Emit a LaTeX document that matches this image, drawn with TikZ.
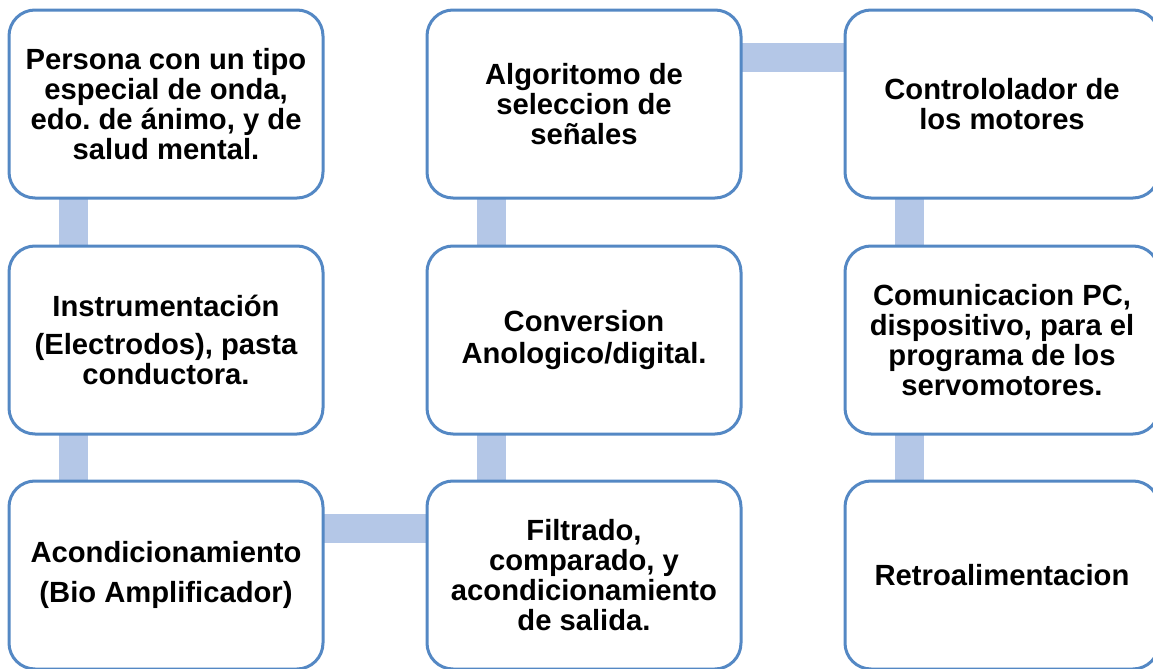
\documentclass[tikz,border=0pt]{standalone}
\usepackage{fontspec}
\setmainfont{Liberation Sans}
\usetikzlibrary{backgrounds}
\definecolor{boxline}{RGB}{84,136,196}
\definecolor{barfill}{RGB}{180,199,231}
\frenchspacing
\tikzset{
  etapa/.style={draw=boxline, line width=1.5pt, fill=white, rounded corners=13pt,
    minimum width=157pt, minimum height=94pt, outer sep=0pt, align=center,
    font=\bfseries\fontsize{14.6pt}{15pt}\selectfont},
  enlace/.style={draw=barfill, line width=14.5pt}
}
\begin{document}
\begin{tikzpicture}[x=0.5pt,y=-0.5pt]
\useasboundingbox (0,0) rectangle (1153,669);
\node[etapa] (persona) at (166,104) {Persona con un tipo\\especial de onda,\\edo. de ánimo, y de\\salud mental.};
\node[etapa] (instru) at (166,340) {Instrumentación\\[4pt](Electrodos), pasta\\conductora.};
\node[etapa] (acond) at (166,575) {Acondicionamiento\\[5pt](Bio Amplificador)};
\node[etapa] (filtro) at (584,575) {Filtrado,\\comparado, y\\acondicionamiento\\de salida.};
\node[etapa] (conv) at (584,340) {Conversion\\[1pt]Anologico/digital.};
\node[etapa] (algo) at (584,104) {Algoritomo de\\seleccion de\\señales};
\node[etapa] (ctrl) at (1002,104) {Contrololador de\\los motores};
\node[etapa] (comun) at (1002,340) {Comunicacion PC,\\dispositivo, para el\\programa de los\\servomotores.};
\node[etapa] (retro) at (1002,575) {Retroalimentacion};
\begin{scope}[on background layer]
\draw[enlace] ([xshift=32.25pt]persona.south west) -- ([xshift=32.25pt]instru.north west);
\draw[enlace] ([xshift=32.25pt]instru.south west) -- ([xshift=32.25pt]acond.north west);
\draw[enlace] ([yshift=-23.5pt]acond.north east) -- ([yshift=-23.5pt]filtro.north west);
\draw[enlace] ([xshift=32.25pt]filtro.north west) -- ([xshift=32.25pt]conv.south west);
\draw[enlace] ([xshift=32.25pt]conv.north west) -- ([xshift=32.25pt]algo.south west);
\draw[enlace] ([yshift=-23.5pt]algo.north east) -- ([yshift=-23.5pt]ctrl.north west);
\draw[enlace] ([xshift=32.25pt]ctrl.south west) -- ([xshift=32.25pt]comun.north west);
\draw[enlace] ([xshift=32.25pt]comun.south west) -- ([xshift=32.25pt]retro.north west);
\end{scope}
\end{tikzpicture}
\end{document}
